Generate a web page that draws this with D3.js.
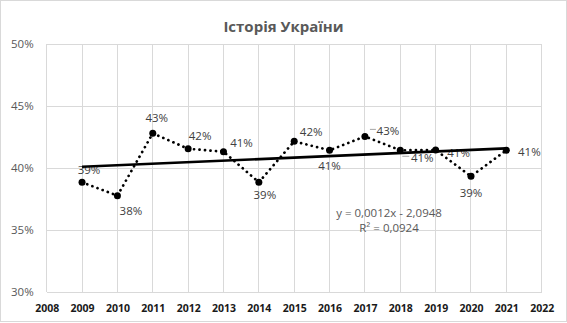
<!DOCTYPE html>
<html>
<head>
<meta charset="utf-8">
<script src="https://cdn.jsdelivr.net/npm/d3@7"></script>
<style>
  html, body { margin: 0; padding: 0; background: #fff; }
  svg { display: block; font-family: "Open Sans", "Noto Sans", sans-serif; }
</style>
</head>
<body>
<svg id="chart" width="567" height="323"></svg>
<script>
// Share of results per year (fraction)
const years = [2009, 2010, 2011, 2012, 2013, 2014, 2015, 2016, 2017, 2018, 2019, 2020, 2021];
const values = [0.3885, 0.3777, 0.4280, 0.4155, 0.4132, 0.3885, 0.4215, 0.4143, 0.4255, 0.4143, 0.4145, 0.3933, 0.4143];
const xTicks = [2008, 2009, 2010, 2011, 2012, 2013, 2014, 2015, 2016, 2017, 2018, 2019, 2020, 2021, 2022];
const yTicks = [0.30, 0.35, 0.40, 0.45, 0.50];
const title = "Історія України";
const equationText = "y = 0,0012x - 2,0948";
const r2Text = "R² = 0,0924";

// Data-label placement (pixel offsets from each marker)
const labelOffsets = [
  [7, -13], [13.5, 15], [4, -16], [12, -13], [18, -9], [6, 12], [17, -10],
  [0, 15], [23, -6], [22, 7], [23, 2], [0, 16], [23, 1]
];
// Labels that got a leader line
const leaders = { 2017: [[5, -7], [11, -7]], 2018: [[2, 6], [9, 6]] };

const W = 567, H = 323;
const plot = { left: 46.7, right: 541.7, top: 44, bottom: 292 };

const svg = d3.select("#chart");

// Outer chart border
svg.append("rect")
  .attr("x", 0.5).attr("y", 0.5).attr("width", W - 1).attr("height", H - 2)
  .attr("fill", "#fff").attr("stroke", "#d9d9d9").attr("stroke-width", 1);

const x = d3.scaleLinear().domain([2008, 2022]).range([plot.left, plot.right]);
const y = d3.scaleLinear().domain([0.30, 0.50]).range([plot.bottom, plot.top]);

// Gridlines
const grid = svg.append("g").attr("stroke", "#d9d9d9").attr("stroke-width", 1).attr("shape-rendering", "crispEdges");
grid.selectAll("line.h").data(yTicks).join("line")
  .attr("x1", plot.left).attr("x2", plot.right)
  .attr("y1", d => y(d)).attr("y2", d => y(d));
grid.selectAll("line.v").data(xTicks).join("line")
  .attr("x1", d => x(d)).attr("x2", d => x(d))
  .attr("y1", plot.top).attr("y2", plot.bottom);

// Y axis labels
const yAxis = d3.axisLeft(y).tickValues(yTicks).tickFormat(d3.format(".0%")).tickSize(0).tickPadding(13);
svg.append("g").attr("transform", `translate(${plot.left},0)`).call(yAxis)
  .call(g => g.select(".domain").remove())
  .call(g => g.selectAll("text").attr("fill", "#595959").attr("font-size", "11.5px")
    .attr("font-family", "'Open Sans', sans-serif"));

// X axis labels
const xAxis = d3.axisBottom(x).tickValues(xTicks).tickFormat(d3.format("d")).tickSize(0).tickPadding(13);
svg.append("g").attr("transform", `translate(0,${plot.bottom})`).call(xAxis)
  .call(g => g.select(".domain").remove())
  .call(g => g.selectAll("text").attr("fill", "#1a1a1a").attr("font-size", "10.5px")
    .attr("font-weight", "bold").attr("font-family", "'Open Sans', sans-serif"));

// Title
svg.append("text")
  .attr("x", W / 2).attr("y", 26)
  .attr("text-anchor", "middle").attr("dominant-baseline", "central")
  .attr("font-size", "15px").attr("font-weight", "bold").attr("fill", "#595959")
  .text(title);

const pts = years.map((yr, i) => ({ year: yr, value: values[i], off: labelOffsets[i] }));

// Dotted series line
svg.append("path")
  .datum(pts)
  .attr("fill", "none").attr("stroke", "#000").attr("stroke-width", 2.7)
  .attr("stroke-linecap", "round").attr("stroke-dasharray", "0.1 5.4")
  .attr("d", d3.line().x(d => x(d.year)).y(d => y(d.value)));

// Data labels
svg.append("g").selectAll("text").data(pts).join("text")
  .attr("x", d => x(d.year) + d.off[0])
  .attr("y", d => y(d.value) + d.off[1])
  .attr("text-anchor", "middle").attr("dominant-baseline", "central")
  .attr("font-size", "11.5px").attr("fill", "#404040")
  .text(d => d3.format(".0%")(d.value));

// Leader lines
Object.entries(leaders).forEach(([yr, seg]) => {
  const p = pts.find(d => d.year === +yr);
  svg.append("line")
    .attr("x1", x(p.year) + seg[0][0]).attr("y1", y(p.value) + seg[0][1])
    .attr("x2", x(p.year) + seg[1][0]).attr("y2", y(p.value) + seg[1][1])
    .attr("stroke", "#a6a6a6").attr("stroke-width", 1);
});

// Linear trend (least squares) over the data range
const n = pts.length;
const mx = d3.mean(pts, d => d.year), my = d3.mean(pts, d => d.value);
const slope = d3.sum(pts, d => (d.year - mx) * (d.value - my)) / d3.sum(pts, d => (d.year - mx) ** 2);
const icpt = my - slope * mx;
const trend = [years[0], years[n - 1]].map(yr => ({ year: yr, value: icpt + slope * yr }));
svg.append("path")
  .datum(trend)
  .attr("fill", "none").attr("stroke", "#000").attr("stroke-width", 2.6)
  .attr("d", d3.line().x(d => x(d.year)).y(d => y(d.value)));

// Markers
svg.append("g").selectAll("circle").data(pts).join("circle")
  .attr("cx", d => x(d.year)).attr("cy", d => y(d.value))
  .attr("r", 3.5).attr("fill", "#000");

// Trendline equation
const eq = svg.append("g").attr("font-size", "11.5px").attr("fill", "#595959")
  .attr("text-anchor", "middle").attr("dominant-baseline", "central");
eq.append("text").attr("x", 389).attr("y", 212).text(equationText);
eq.append("text").attr("x", 389).attr("y", 227).text(r2Text);
</script>
</body>
</html>
